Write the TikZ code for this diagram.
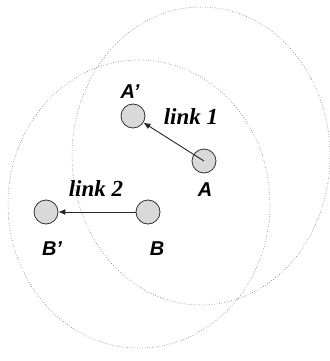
\documentclass[tikz,border=0pt]{standalone}
\usepackage{fontspec}
\usepackage{tikz}
\usetikzlibrary{arrows.meta}
\newfontfamily\labelfont{Liberation Sans}
\newfontfamily\linkfont{Liberation Serif}
\definecolor{nodegray}{RGB}{217,217,217}
\begin{document}
\begin{tikzpicture}[x=1pt, y=-1pt, thick, >={Latex[length=7pt,width=6pt]},
    station/.style={circle, draw=black!80, line width=0.8pt, fill=nodegray, minimum size=24pt, inner sep=0pt},
    stationlabel/.style={font=\labelfont\bfseries\itshape\fontsize{20}{20}\selectfont},
    linklabel/.style={font=\linkfont\bfseries\itshape\fontsize{23}{23}\selectfont},
    coverage/.style={draw=black!75, line width=0.5pt, dotted}]
        \useasboundingbox (0,0) rectangle (329,361);

        % Reichweiten der Stationen (coverage)
        \draw[coverage] (201,156) ellipse [x radius=129, y radius=149];
        \draw[coverage] (139,204) ellipse [x radius=131, y radius=144];

        % Stationen
        \node[station] (A') at (133,116) {};
        \node[station] (A) at (204,161) {};
        \node[station] (B') at (46,212) {};
        \node[station] (B) at (148,212) {};

        % Beschriftungen
        \node[stationlabel] (lblA') at (130,92) {A’};
        \node[stationlabel] (lblA) at (205,190) {A};
        \node[stationlabel] (lblB') at (52,249) {B’};
        \node[stationlabel] (lblB) at (157,249) {B};

        % Verbindungen
        \draw[->, black!85, line width=0.9pt] (A.center) -- (A');
        \draw[->, black!85, line width=0.9pt] (B) -- (B');
        \node[linklabel] (link1) at (191,117) {link 1};
        \node[linklabel] (link2) at (96,189) {link 2};

    \end{tikzpicture}
\end{document}
